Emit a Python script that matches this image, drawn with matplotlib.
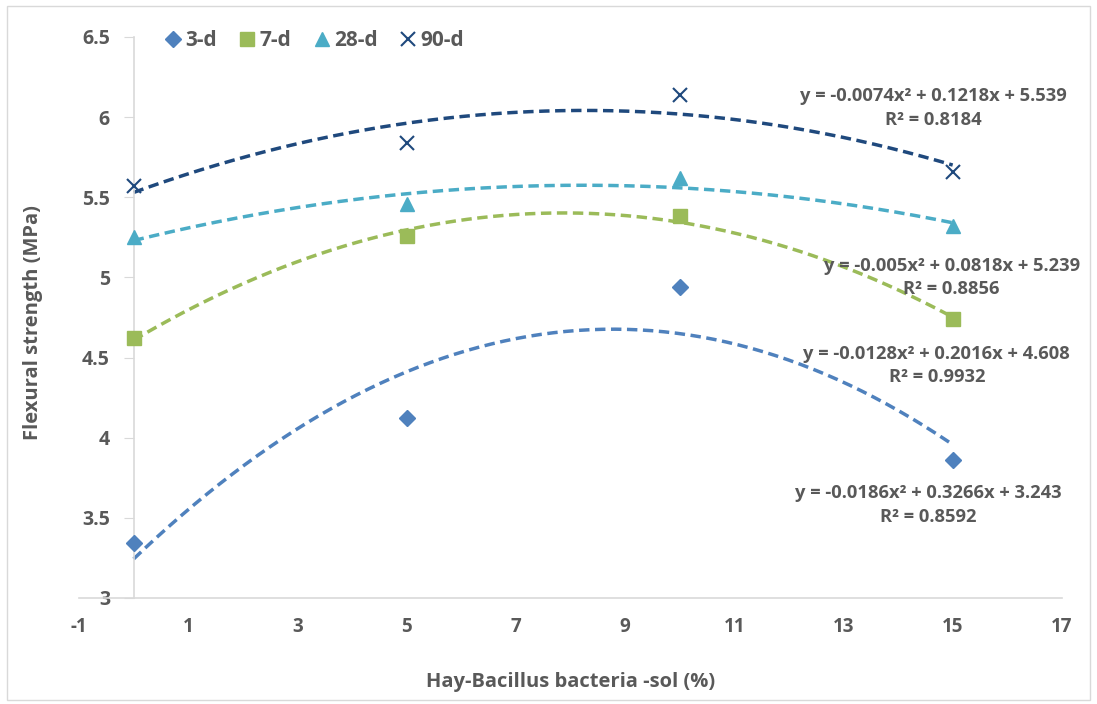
import numpy as np
import matplotlib
matplotlib.use("Agg")
from matplotlib import pyplot as plt
from matplotlib.patches import Rectangle

# data
sol_pct = [0, 5, 10, 15]
d3 = [3.34, 4.12, 4.94, 3.86]
d7 = [4.62, 5.26, 5.38, 4.74]
d28 = [5.25, 5.46, 5.62, 5.32]
d90 = [5.57, 5.84, 6.14, 5.66]
series_names = ["3-d", "7-d", "28-d", "90-d"]

# trendline labels as printed on the chart (placed as in the original)
eq_labels = [
    "y = -0.0186x\u00b2 + 0.3266x + 3.243\nR\u00b2 = 0.8592",
    "y = -0.0128x\u00b2 + 0.2016x + 4.608\nR\u00b2 = 0.9932",
    "y = -0.005x\u00b2 + 0.0818x + 5.239\nR\u00b2 = 0.8856",
    "y = -0.0074x\u00b2 + 0.1218x + 5.539\nR\u00b2 = 0.8184",
]
eq_pos = [(14.55, 3.58), (14.71, 4.45), (14.98, 5.0), (14.65, 6.055)]

colors = ["#4F81BD", "#9BBB59", "#4BACC6", "#1F497D"]
markers = ["D", "s", "^", "x"]
msizes = [8, 10, 10, 10]
text_col = "#595959"

plt.rcParams["font.family"] = ["Open Sans", "DejaVu Sans"]
plt.rcParams["font.weight"] = "bold"
plt.rcParams["axes.unicode_minus"] = False

fig = plt.figure(figsize=(10.97, 7.04), dpi=100)
fig.patches.append(Rectangle((0.006, 0.006), 0.988, 0.985, transform=fig.transFigure,
                             fill=False, edgecolor="#D9D9D9", linewidth=1))
ax = fig.add_axes([0.072, 0.1506, 0.896, 0.797])

xs = np.linspace(0, 15, 200)
for ys, name, c, m, ms in zip([d3, d7, d28, d90], series_names, colors, markers, msizes):
    coef = np.polyfit(sol_pct, ys, 2)
    ax.plot(xs, np.polyval(coef, xs), color=c, lw=2.5, linestyle=(0, (3, 1.6)), zorder=2)
    if m == "x":
        ax.plot(sol_pct, ys, linestyle="none", marker=m, ms=ms, mew=1.5, color=c,
                label=name, zorder=3)
    else:
        ax.plot(sol_pct, ys, linestyle="none", marker=m, ms=ms, color=c, mec=c,
                label=name, zorder=3)

for lab, (tx, ty) in zip(eq_labels, eq_pos):
    ax.text(tx, ty, lab, ha="center", va="center", fontsize=13.2, color=text_col,
            fontweight="bold", linespacing=1.4, zorder=4)

ax.set_xlim(-1, 17)
ax.set_ylim(3, 6.5)
ax.set_xticks(np.arange(-1, 18, 2))
ax.set_yticks(np.arange(3, 6.51, 0.5))
ax.set_yticklabels(["3", "3.5", "4", "4.5", "5", "5.5", "6", "6.5"])

for s in ["top", "right"]:
    ax.spines[s].set_visible(False)
ax.spines["left"].set_position(("data", 0))
ax.spines["left"].set_color("#D9D9D9")
ax.spines["bottom"].set_color("#D9D9D9")
ax.spines["left"].set_linewidth(1.2)
ax.spines["bottom"].set_linewidth(1.2)
ax.tick_params(axis="y", length=7, color="#D9D9D9", labelsize=14, labelcolor=text_col, pad=10)
ax.tick_params(axis="x", length=0, labelsize=13.5, labelcolor=text_col, pad=14)

ax.set_xlabel("Hay-Bacillus bacteria -sol (%)", fontsize=14.5, color=text_col,
              fontweight="bold", labelpad=25)
ax.set_ylabel("Flexural strength (MPa)", fontsize=14.5, color=text_col, fontweight="bold")
ax.yaxis.set_label_coords(-0.037, 0.49)

ax.legend(loc="upper left", bbox_to_anchor=(0.065, 1.045), ncol=4, frameon=False,
          handletextpad=0.05, columnspacing=0.9, handlelength=1.1,
          labelcolor=text_col, prop={"weight": "bold", "size": 15})

fig.savefig("out.png", dpi=100)
